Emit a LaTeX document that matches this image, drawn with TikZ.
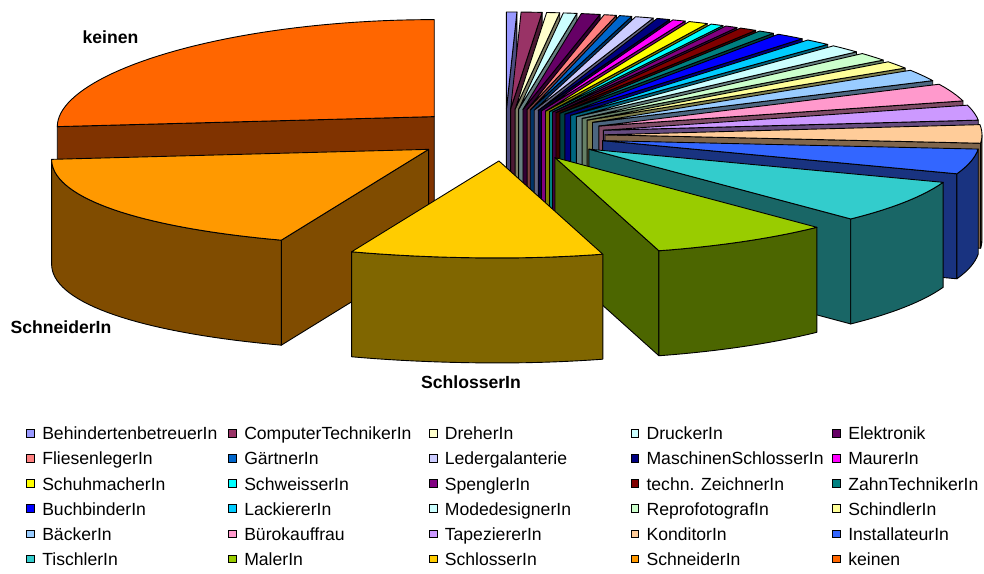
\documentclass[tikz,border=0pt]{standalone}
\usepackage{fontspec}
\setmainfont{Liberation Sans}
\usepackage{xcolor}
\usepackage{tikz}
\usetikzlibrary{positioning}

\definecolor{behindert}{HTML}{9999FF}
\definecolor{computer}{HTML}{993366}
\definecolor{dreher}{HTML}{FFFFCC}
\definecolor{drucker}{HTML}{CCFFFF}
\definecolor{elektronik}{HTML}{660066}
\definecolor{fliesen}{HTML}{FF8080}
\definecolor{gaertner}{HTML}{0066CC}
\definecolor{leder}{HTML}{CCCCFF}
\definecolor{maschschl}{HTML}{000080}
\definecolor{maurer}{HTML}{FF00FF}
\definecolor{schuh}{HTML}{FFFF00}
\definecolor{schweiss}{HTML}{00FFFF}
\definecolor{spengler}{HTML}{800080}
\definecolor{zeichner}{HTML}{800000}
\definecolor{zahntech}{HTML}{008080}
\definecolor{buchbind}{HTML}{0000FF}
\definecolor{lackierer}{HTML}{00CCFF}
\definecolor{mode}{HTML}{CCFFFF}
\definecolor{repro}{HTML}{CCFFCC}
\definecolor{schindler}{HTML}{FFFF99}
\definecolor{baecker}{HTML}{99CCFF}
\definecolor{buero}{HTML}{FF99CC}
\definecolor{tapezier}{HTML}{CC99FF}
\definecolor{konditor}{HTML}{FFCC99}
\definecolor{install}{HTML}{3366FF}
\definecolor{tischler}{HTML}{33CCCC}
\definecolor{maler}{HTML}{99CC00}
\definecolor{schlosser}{HTML}{FFCC00}
\definecolor{schneider}{HTML}{FF9900}
\definecolor{keinen}{HTML}{FF6600}

% #1 apex nudge, #2 start angle, #3 end angle, #4 colour
\newcommand\pieslice[4][0]{%
  \pgfmathsetmacro\midang{(#2+#3)/2}%
  \pgfmathsetmacro\apx{505+100*cos(\midang)+#1}%
  \pgfmathsetmacro\apy{135-26*sin(\midang)}%
  \pgfmathtruncatemacro\nsmp{abs(#2-#3)/2+2}%
  \pgfmathsetmacro\cosst{cos(#2)}%
  \pgfmathsetmacro\cosen{cos(#3)}%
  \pgfmathsetmacro\bandlo{max(#3,-180)}%
  \pgfmathsetmacro\bandhi{min(#2,0)}%
  \ifdim\cosst pt<-0.001pt
    \draw[sideface=#4] (\apx,\apy) -- ({\apx+rimx(#2)},{\apy+rimy(#2)}) -- ++(0,105) -- (\apx,\apy+105) -- cycle;
  \fi
  \ifdim\cosen pt>0.001pt
    \draw[sideface=#4] (\apx,\apy) -- ({\apx+rimx(#3)},{\apy+rimy(#3)}) -- ++(0,105) -- (\apx,\apy+105) -- cycle;
  \fi
  \ifdim\bandlo pt<\bandhi pt
    \draw[sideface=#4] plot[domain=\bandlo:\bandhi,samples=\nsmp] ({\apx+rimx(\x)},{\apy+rimy(\x)})
      -- plot[domain=\bandlo:\bandhi,samples=\nsmp] ({\apx+rimx(\bandlo+\bandhi-\x)},{\apy+105+rimy(\bandlo+\bandhi-\x)}) -- cycle;
  \fi
  \draw[slicetop=#4] (\apx,\apy) -- plot[domain=#3:#2,samples=\nsmp] ({\apx+rimx(\x)},{\apy+rimy(\x)}) -- cycle;
}

% #1 name, #2 x, #3 y, #4 colour, #5 text
\newcommand\legitem[5]{%
  \node[legkey, fill=#4] (#1) at (#2,#3) {};
  \node[legtext, right=7pt of #1] (#1-t) {#5};
}

\begin{document}
\begin{tikzpicture}[x=1pt, y=-1pt,
  declare function={rimx(\t)=377*cos(\t); rimy(\t)=-97*sin(\t)+10*(cos(\t)<0)*cos(\t)*cos(\t);},
  sideface/.style={fill=#1!50!black, draw=black, line width=0.9pt, line join=round},
  slicetop/.style={fill=#1, draw=black, line width=0.9pt, line join=round},
  slicelabel/.style={font=\fontsize{17.6}{20}\selectfont\bfseries, inner sep=0pt, anchor=base},
  legkey/.style={draw=black, line width=0.9pt, minimum size=7.8pt, inner sep=0pt},
  legtext/.style={font=\fontsize{17.6}{20}\selectfont, inner sep=0pt, text height=12.6pt, text depth=0pt}]
	\useasboundingbox (0,0) rectangle (984,573);

	% pie, back to front
	\pieslice{-180}{-270}{keinen}
	\pieslice{90}{88.4}{behindert}
	\pieslice{88.4}{85.2}{computer}
	\pieslice{85.2}{83.2}{dreher}
	\pieslice{83.2}{81.1}{drucker}
	\pieslice{81.1}{78.2}{elektronik}
	\pieslice{78.2}{76.3}{fliesen}
	\pieslice{76.3}{74.4}{gaertner}
	\pieslice{74.4}{71.6}{leder}
	\pieslice{71.6}{69.6}{maschschl}
	\pieslice{69.6}{67.6}{maurer}
	\pieslice{67.6}{64.6}{schuh}
	\pieslice{64.6}{62.6}{schweiss}
	\pieslice{62.6}{60.7}{spengler}
	\pieslice{60.7}{58}{zeichner}
	\pieslice{58}{55.5}{zahntech}
	\pieslice{55.5}{51}{buchbind}
	\pieslice{51}{47}{lackierer}
	\pieslice{47}{42}{mode}
	\pieslice{42}{37}{repro}
	\pieslice{37}{32.5}{schindler}
	\pieslice{32.5}{25.5}{baecker}
	\pieslice{25.5}{15}{buero}
	\pieslice{15}{6}{tapezier}
	\pieslice{6}{-5}{konditor}
	\pieslice{-5}{-20}{install}
	\pieslice{-20}{-46}{tischler}
	\pieslice{-46}{-74}{maler}
	\pieslice[7]{-113}{-180}{schneider}
	\pieslice{-74}{-113}{schlosser}

	\node[slicelabel] (lkeinen) at (110.5,43) {keinen};
	\node[slicelabel] (lschneider) at (61,333.3) {SchneiderIn};
	\node[slicelabel] (lschlosser) at (471,388.3) {SchlosserIn};

	% legend
	\legitem{k1}{30.7}{433.5}{behindert}{BehindertenbetreuerIn}
	\legitem{k2}{232.7}{433.5}{computer}{ComputerTechnikerIn}
	\legitem{k3}{433.3}{433.5}{dreher}{DreherIn}
	\legitem{k4}{635}{433.5}{drucker}{DruckerIn}
	\legitem{k5}{836.7}{433.5}{elektronik}{Elektronik}
	\legitem{k6}{30.7}{458.6}{fliesen}{FliesenlegerIn}
	\legitem{k7}{232.7}{458.6}{gaertner}{GärtnerIn}
	\legitem{k8}{433.3}{458.6}{leder}{Ledergalanterie}
	\legitem{k9}{635}{458.6}{maschschl}{MaschinenSchlosserIn}
	\legitem{k10}{836.7}{458.6}{maurer}{MaurerIn}
	\legitem{k11}{30.7}{483.7}{schuh}{SchuhmacherIn}
	\legitem{k12}{232.7}{483.7}{schweiss}{SchweisserIn}
	\legitem{k13}{433.3}{483.7}{spengler}{SpenglerIn}
	\legitem{k14}{635}{483.7}{zeichner}{techn. ZeichnerIn}
	\legitem{k15}{836.7}{483.7}{zahntech}{ZahnTechnikerIn}
	\legitem{k16}{30.7}{508.8}{buchbind}{BuchbinderIn}
	\legitem{k17}{232.7}{508.8}{lackierer}{LackiererIn}
	\legitem{k18}{433.3}{508.8}{mode}{ModedesignerIn}
	\legitem{k19}{635}{508.8}{repro}{ReprofotografIn}
	\legitem{k20}{836.7}{508.8}{schindler}{SchindlerIn}
	\legitem{k21}{30.7}{533.9}{baecker}{BäckerIn}
	\legitem{k22}{232.7}{533.9}{buero}{Bürokauffrau}
	\legitem{k23}{433.3}{533.9}{tapezier}{TapeziererIn}
	\legitem{k24}{635}{533.9}{konditor}{KonditorIn}
	\legitem{k25}{836.7}{533.9}{install}{InstallateurIn}
	\legitem{k26}{30.7}{559}{tischler}{TischlerIn}
	\legitem{k27}{232.7}{559}{maler}{MalerIn}
	\legitem{k28}{433.3}{559}{schlosser}{SchlosserIn}
	\legitem{k29}{635}{559}{schneider}{SchneiderIn}
	\legitem{k30}{836.7}{559}{keinen}{keinen}
\end{tikzpicture}
\end{document}
